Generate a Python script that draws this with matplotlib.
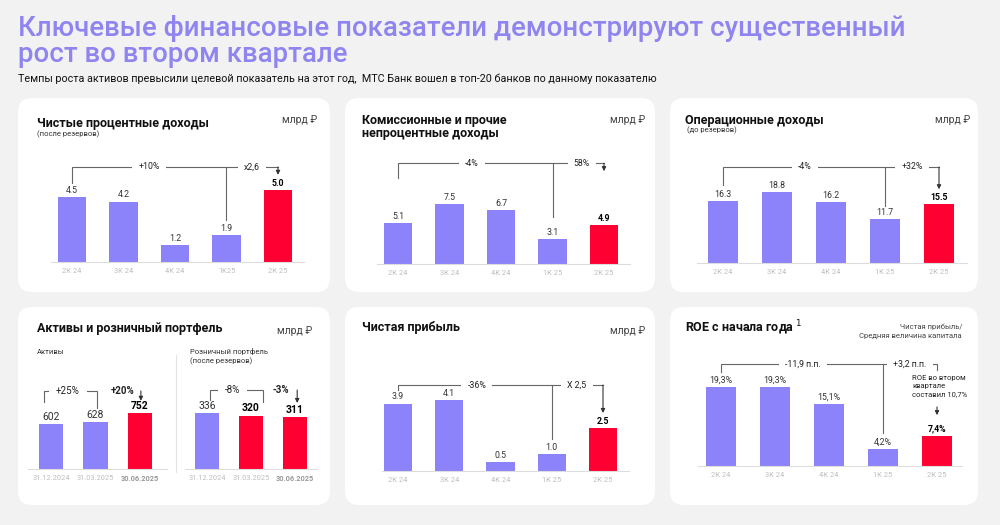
import matplotlib
matplotlib.use('Agg')
import matplotlib.pyplot as plt
from matplotlib.patches import FancyBboxPatch

plt.rcParams['font.family'] = ['Roboto', 'DejaVu Sans']

PURPLE = '#8C82FA'
RED = '#FF0032'
TITLE_C = '#8F84F0'
LINE_C = '#666666'

# data
quarters_a = ['2К 24', '3К 24', '4К 24', '1К25', '2К 25']
quarters_b = ['2К 24', '3К 24', '4К 24', '1К 25', '2К 25']
nii = [4.5, 4.2, 1.2, 1.9, 5.0]
fee = [5.1, 7.5, 6.7, 3.1, 4.9]
op_income = [16.3, 18.8, 16.2, 11.7, 15.5]
dates = ['31.12.2024', '31.03.2025', '30.06.2025']
assets = [602, 628, 752]
retail = [336, 320, 311]
profit = [3.9, 4.1, 0.5, 1.0, 2.5]
roe = [19.3, 19.3, 15.1, 4.2, 7.4]
roe_labels = ['19,3%', '19,3%', '15,1%', '4,2%', '7,4%']

fig = plt.figure(figsize=(10, 5.25), dpi=100, facecolor='#F2F2F2')
bg = fig.add_axes([0, 0, 1, 1])
bg.set_xlim(0, 1000)
bg.set_ylim(525, 0)
bg.axis('off')

# cards
for x0, y0, x1, y1 in [(18, 98, 330, 292), (345, 98, 655, 292), (670, 98, 978, 292),
                       (18, 307, 330, 505), (345, 307, 655, 505), (670, 307, 978, 505)]:
    bg.add_patch(FancyBboxPatch((x0, y0), x1 - x0, y1 - y0,
                                boxstyle='round,pad=0,rounding_size=14',
                                fc='white', ec='none'))

renderer = fig.canvas.get_renderer()


def fit_width(t, width_px):
    w = t.get_window_extent(renderer).width
    t.set_fontsize(t.get_fontsize() * width_px / w)


t1 = bg.text(18, 36, 'Ключевые финансовые показатели демонстрируют существенный',
             fontsize=20, color=TITLE_C, fontweight='medium', va='baseline')
fit_width(t1, 887)
bg.text(18, 62, 'рост во втором квартале', fontsize=t1.get_fontsize(),
        color=TITLE_C, fontweight='medium', va='baseline')
t3 = bg.text(18, 82, 'Темпы роста активов превысили целевой показатель на этот год,  '
             'МТС Банк вошел в топ-20 банков по данному показателю',
             fontsize=8, color='#111111', va='baseline')
fit_width(t3, 642)


def card_title(x, y, s, unit_x=None, unit_y=None):
    bg.text(x, y, s, fontsize=9, fontweight='bold', color='#111111', va='baseline')
    if unit_x is not None:
        bg.text(unit_x, unit_y, 'млрд ₽', fontsize=7.5, color='#444444',
                ha='right', va='baseline')


def small(x, y, s, ha='left', color='#333333'):
    bg.text(x, y, s, fontsize=5.5, color=color, ha=ha, va='baseline')


def bar_axes(c0, sp, base, ppu, xlo, xhi, top=150):
    left = c0 + xlo * sp
    width = (xhi - xlo) * sp
    ax = fig.add_axes([left / 1000, (525 - base) / 525, width / 1000, top / 525])
    ax.set_xlim(xlo, xhi)
    ax.set_ylim(0, top / ppu)
    ax.patch.set_alpha(0)
    for s in ['top', 'right', 'left']:
        ax.spines[s].set_visible(False)
    ax.spines['bottom'].set_color('#DDDDDD')
    ax.spines['bottom'].set_linewidth(0.8)
    ax.set_yticks([])
    ax.tick_params(axis='x', length=0, pad=4, labelsize=5.3, labelcolor='#BDBDBD')
    return ax


def draw_bars(ax, cats, vals, labels, colors, bold, fs=6.3):
    xs = list(range(len(vals)))
    ax.bar(xs, vals, width=0.55, color=colors)
    ax.set_xticks(xs)
    ax.set_xticklabels(cats)
    for i, v in enumerate(vals):
        ax.annotate(labels[i], (i, v), xytext=(0, 1.5), textcoords='offset points',
                    ha='center', va='bottom', fontsize=fs,
                    fontweight='bold' if bold[i] else 'normal',
                    color='#000000' if bold[i] else '#333333')


def line(ax, xs, ys):
    ax.plot(xs, ys, color=LINE_C, lw=0.8, clip_on=False, solid_joinstyle='miter')


def arrow(ax, x, y0, y1):
    ax.annotate('', xy=(x, y1), xytext=(x, y0),
                arrowprops=dict(arrowstyle='-|>', color='#333333', lw=0.8,
                                mutation_scale=6, shrinkA=0, shrinkB=0),
                annotation_clip=False)


def tag(ax, x, y, s, bold=False, box=True, fs=6.3):
    ax.text(x, y, s, ha='center', va='center', fontsize=fs, color='#222222',
            fontweight='bold' if bold else 'normal', clip_on=False,
            bbox=dict(boxstyle='square,pad=0.7', fc='white', ec='none') if box else None)


def growth(ax, level, left_end, mid_end, right_end, t1, x1, t2, x2):
    line(ax, [0, 0, 4], [left_end, level, level])
    line(ax, [3, 3], [level, mid_end])
    arrow(ax, 4, level, right_end)
    tag(ax, x1, level, t1)
    tag(ax, x2, level, t2)


five_colors = [PURPLE] * 4 + [RED]
five_bold = [False] * 4 + [True]

# 1. Чистые процентные доходы
card_title(37, 127, 'Чистые процентные доходы', 317, 123)
small(37, 136, '(после резервов)')
ax = bar_axes(72, 51.5, 262, 14.4, -0.4, 4.5)
draw_bars(ax, quarters_a, nii, [f'{v:.1f}' for v in nii], five_colors, five_bold)
growth(ax, 6.6, 5.5, 2.95, 6.05, '+10%', 1.5, 'x2,6', 3.5)

# 2. Комиссионные и прочие непроцентные доходы
card_title(362, 124, 'Комиссионные и прочие', 645, 123)
card_title(362, 137, 'непроцентные доходы')
ax = bar_axes(398, 51.5, 264, 8.0, -0.4, 4.5)
draw_bars(ax, quarters_b, fee, [f'{v:.1f}' for v in fee], five_colors, five_bold)
growth(ax, 12.6, 10.75, 5.9, 11.6, '-4%', 1.44, '58%', 3.57)

# 3. Операционные доходы
card_title(685, 124, 'Операционные доходы', 970, 123)
small(687, 132, '(до резервов)')
ax = bar_axes(723, 54, 263, 3.78, -0.48, 4.52)
draw_bars(ax, quarters_b, op_income, [f'{v:.1f}' for v in op_income], five_colors, five_bold)
growth(ax, 25.4, 20.6, 15.0, 19.5, '-4%', 1.52, '+32%', 3.5)

# 4. Активы и розничный портфель
card_title(37, 332, 'Активы и розничный портфель', 312, 334)
small(37, 354, 'Активы')
small(190, 354, 'Розничный портфель')
small(190, 363, '(после резервов)')
bg.plot([176, 176], [355, 472], color='#E3E3E3', lw=0.8)

ax = bar_axes(51, 44.5, 469, 0.0745, -0.52, 2.6)
draw_bars(ax, dates, assets, [str(v) for v in assets], [PURPLE, PURPLE, RED],
          [False, False, True], fs=7.5)
ax.get_xticklabels()[2].set_fontweight('bold')
ax.get_xticklabels()[2].set_color('#999999')
line(ax, [-0.16, -0.16, 1.03, 1.03], [899, 1047, 1047, 819])
tag(ax, 0.38, 1047, '+25%', fs=7)
tag(ax, 1.6, 1047, '+20%', bold=True, box=False, fs=7)
arrow(ax, 2.02, 1047, 915)

ax = bar_axes(207, 44, 469, 0.167, -0.5, 2.5)
draw_bars(ax, dates, retail, [str(v) for v in retail], [PURPLE, RED, RED],
          [False, True, True], fs=7.5)
ax.get_xticklabels()[2].set_fontweight('bold')
ax.get_xticklabels()[2].set_color('#999999')
line(ax, [0.07, 0.07, 1.27, 1.27], [413, 473, 473, 401])
tag(ax, 0.57, 473, '-8%', fs=7)
tag(ax, 1.68, 473, '-3%', bold=True, box=False, fs=7)
arrow(ax, 2.05, 473, 395)

# 5. Чистая прибыль
card_title(362, 331, 'Чистая прибыль', 645, 334)
ax = bar_axes(398, 51.25, 471, 17.3, -0.31, 4.5)
draw_bars(ax, quarters_b, profit, [f'{v:.1f}' for v in profit], five_colors, five_bold)
growth(ax, 4.97, 4.68, 1.85, 3.35, '-36%', 1.54, 'X 2,5', 3.49)

# 6. ROE с начала года
card_title(685, 332, 'ROE с начала года $^1$')
small(962, 329, 'Чистая прибыль/', ha='right', color='#444444')
small(962, 338, 'Средняя величина капитала', ha='right', color='#444444')
ax = bar_axes(721, 54, 466, 4.1, -0.43, 4.46)
draw_bars(ax, quarters_b, roe, roe_labels, five_colors, five_bold)
line(ax, [0, 0, 4, 4], [22.9, 24.9, 24.9, 23.4])
line(ax, [3, 3], [24.9, 8.0])
tag(ax, 1.52, 24.9, '-11,9 п.п.')
tag(ax, 3.5, 24.9, '+3,2 п.п.')
ax.text(3.54, 22.2, 'ROE во втором\nквартале\nсоставил 10,7%', fontsize=5.5,
        color='#222222', va='top', ha='left', linespacing=1.4, clip_on=False)
arrow(ax, 4, 14.4, 12.4)

fig.savefig('out.png', dpi=100, facecolor=fig.get_facecolor())
